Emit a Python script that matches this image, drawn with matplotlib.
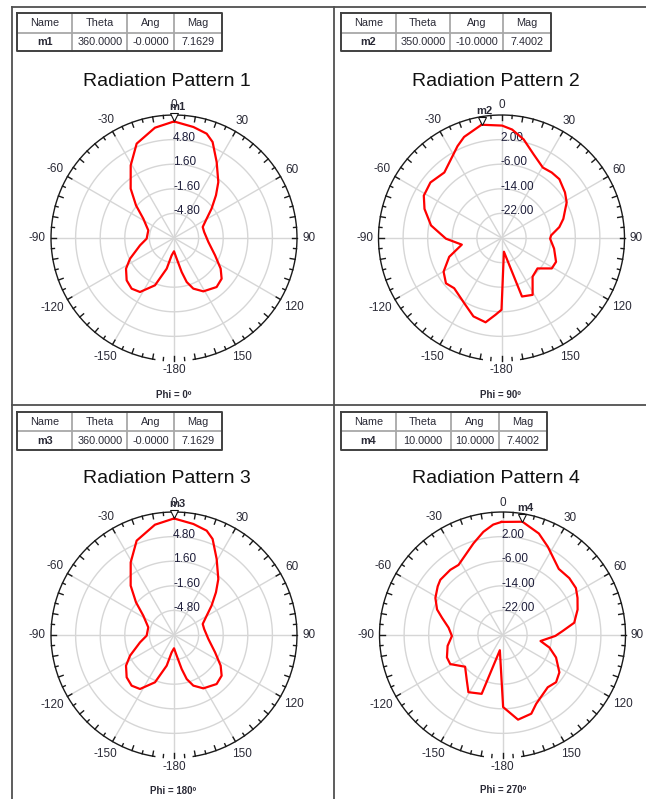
import numpy as np
import matplotlib.pyplot as plt
from matplotlib.transforms import offset_copy

plt.rcParams['font.family'] = ['Liberation Sans', 'DejaVu Sans']

W, H = 646, 799

# E-plane cut (phi = 0 / 180): angle in degrees, gain in dB
ang_a = [0, 9.9, 17.4, 21.9, 29.3, 38.4, 44.5, 52, 59.4, 69, 78.7, 96.6, 112.9,
         123.3, 130.5, 139, 151.2, 159.1, 163.9, 167.3, 172.6, 180,
         -172.3, -166.6, -158.1, -147.8, -140.1, -131.8, -122.6, -115.2,
         -102.2, -91.4, -73.4, -57.8, -49.3, -41.3, -30.8, -21.6, -9.8]
mag_a = [7.16, 6.66, 6.22, 5.46, 3.34, 1.28, -0.21, -1.8, -3.06, -4.0, -4.0, -3.5, -2.2,
         -0.74, 0.15, 0.45, -0.08, -0.95, -2.04, -3.47, -5.29, -6.27,
         -5.72, -3.9, -1.37, 0.3, 0.59, 0.26, -0.59, -1.68,
         -3.48, -4.44, -4.51, -3.28, -1.48, 0.54, 3.0, 5.2, 6.56]

# H-plane cut (phi = 90)
ang_b = [-10, 0.3, 5.6, 12.7, 21, 30.4, 37.5, 44.5, 54.3, 61.3, 72.8, 79.3, 87, 90.8,
         101.4, 113.6, 121.2, 130.2, 141.2, 151.3, 160.7, 170, 180, -175.6, -169.3,
         -160.3, -150.2, -136.7, -129.2, -120.2, -109.8, -99.5, -90.7, -79.9, -69.3,
         -61.4, -52, -41.1, -32.7, -25.6, -20.3]
mag_b = [7.4002, 6.56, 5.44, 2.84, -0.86, -3.44, -3.16, -3.16, -4.58, -5.84, -8.95, -10.86,
         -13.85, -14.19, -12.56, -10.64, -10.89, -14.67, -13.87, -8.92, -9.84, -25.48, -6.67,
         -4.98, -2.1, -2.92, -5.59, -7.56, -6.69, -8.21, -11.93, -16.91, -11.93, -6.73,
         -3.23, -1.22, -0.67, -1.72, 0.43, 3.12, 5.05]

# phi = 270 cut
ang_c = [-0.5, 10, 14.1, 19.7, 27.2, 40.4, 49.6, 57.4, 63.7, 71.3, 80.3, 86.2, 91, 99,
         105, 112.8, 123.3, 131.4, 139.1, 153.9, 159.9, 169.6, 179.5, -170.1, -160.5,
         -149.2, -142, -130.3, -119.1, -112, -101.2, -91.1, -82.3, -74.1, -68.7, -61.1,
         -53.1, -48.4, -38.7, -32.1, -17.6, -10.5, -4.8]
mag_c = [6.77, 7.4002, 6.24, 5.06, 2.26, -1.77, -1.47, -1.66, -2.79, -4.22, -6.34, -10.39,
         -12.8, -17.48, -14.19, -11.11, -7.87, -6.77, -7.52, -5.09, -2.75, -2.01, -6.56,
         -24.98, -9.7, -8.35, -11.16, -14.05, -10.55, -10.51, -11.8, -13.55, -12.31,
         -9.55, -7.16, -5.07, -3.65, -2.96, -2.85, -3.09, 1.25, 4.12, 6.04]

titles = ['Radiation Pattern 1', 'Radiation Pattern 2', 'Radiation Pattern 3', 'Radiation Pattern 4']
phi_labels = ['Phi = 0º', 'Phi = 90º', 'Phi = 180º', 'Phi = 270º']
patterns = [(ang_a, mag_a), (ang_b, mag_b), (ang_a, mag_a), (ang_c, mag_c)]
r_limits = [(-8.0, 8.0), (-30.0, 10.0), (-8.0, 8.0), (-30.0, 10.0)]
r_rings = [[-4.8, -1.6, 1.6, 4.8], [-22.0, -14.0, -6.0, 2.0],
           [-4.8, -1.6, 1.6, 4.8], [-22.0, -14.0, -6.0, 2.0]]

m_names = ['m1', 'm2', 'm3', 'm4']
m_theta = [360.0, 350.0, 360.0, 10.0]
m_ang = [-0.0, -10.0, -0.0, 10.0]
m_mag = [7.1629, 7.4002, 7.1629, 7.4002]

theta_ticks = [0, 30, 60, 90, 120, 150, 180, -150, -120, -90, -60, -30]
theta_text = ['0', '30', '60', '90', '120', '150', '-180', '-150', '-120', '-90', '-60', '-30']

# layout in pixels (x from left, y from top)
centers = [(174, 238), (501.5, 238), (174, 635), (502.5, 635)]
R = 123
title_pos = [(166.7, 81.7), (495.8, 81.7), (166.7, 478.5), (495.8, 478.5)]
phi_pos = [(173.3, 395), (500, 395), (173.3, 791), (503, 790)]
table_cols = [[17.3, 72.3, 127.3, 174, 221.7], [341, 396, 450, 503.3, 551],
              [17.3, 72.3, 127.3, 174, 221.7], [341, 395.7, 450.7, 499.3, 546.7]]
table_rows = [[13.3, 32.7, 51], [13.3, 32.7, 51], [412.3, 431, 450], [412.3, 431, 450]]

fig = plt.figure(figsize=(W / 100, H / 100), dpi=100)
bg = fig.add_axes([0, 0, 1, 1])
bg.set_xlim(0, W)
bg.set_ylim(H, 0)
bg.axis('off')

frame = dict(color='#505050', lw=1.3)
bg.plot([11.5, W], [7, 7], **frame)
bg.plot([11.5, 11.5], [7, H], **frame)
bg.plot([334, 334], [7, H], **frame)
bg.plot([11.5, W], [405, 405], **frame)

txt = '#2a2a36'

for k in range(4):
    # marker table
    xs, ys = table_cols[k], table_rows[k]
    for x in xs[1:-1]:
        bg.plot([x, x], [ys[0], ys[2]], color='#a8a8a8', lw=1.3)
    bg.plot([xs[0], xs[-1]], [ys[1], ys[1]], color='#a8a8a8', lw=1.3)
    bg.plot([xs[0], xs[-1], xs[-1], xs[0], xs[0]], [ys[0], ys[0], ys[2], ys[2], ys[0]],
            color='#404040', lw=1.4)
    heads = ['Name', 'Theta', 'Ang', 'Mag']
    vals = [m_names[k], f'{m_theta[k]:.4f}', f'{m_ang[k]:.4f}', f'{m_mag[k]:.4f}']
    for i in range(4):
        xm = (xs[i] + xs[i + 1]) / 2
        bg.text(xm, (ys[0] + ys[1]) / 2 + 0.5, heads[i], ha='center', va='center',
                fontsize=7.8, color=txt)
        bg.text(xm, (ys[1] + ys[2]) / 2 + 0.5, vals[i], ha='center', va='center',
                fontsize=7.8, color=txt, fontweight='bold' if i == 0 else 'normal')

    bg.text(*title_pos[k], titles[k], ha='center', va='center', fontsize=14, color='#111111')
    bg.text(*phi_pos[k], phi_labels[k], ha='center', va='center', fontsize=7,
            fontweight='bold', color=txt)

    # polar plot
    cx, cy = centers[k]
    ax = fig.add_axes([(cx - R) / W, (H - cy - R) / H, 2 * R / W, 2 * R / H],
                      projection='polar')
    ax.set_theta_zero_location('N')
    ax.set_theta_direction(-1)
    rmin, rmax = r_limits[k]
    ax.set_rlim(rmin, rmax)
    ax.set_xticks([])
    ax.set_yticks([])
    ax.grid(False)
    ax.spines['polar'].set_visible(False)
    ax.patch.set_alpha(0)
    span = rmax - rmin
    px = span / R

    full = np.linspace(0, 2 * np.pi, 361)
    for ring in r_rings[k]:
        ax.plot(full, np.full_like(full, ring), color='#d6d6d6', lw=1.0, zorder=1)
    for a in range(0, 360, 30):
        ax.plot([np.radians(a)] * 2, [rmin, rmax], color='#d6d6d6', lw=1.0, zorder=1)

    arc = np.radians(np.linspace(-171, 171, 400))
    ax.plot(arc, np.full_like(arc, rmax), color='#1a1a1a', lw=1.0, clip_on=False, zorder=3)
    for a in range(-180, 180, 5):
        ln = 5 if a % 10 == 0 else 3
        ax.plot([np.radians(a)] * 2, [rmax, rmax - ln * px], color='#1a1a1a', lw=1.0,
                clip_on=False, zorder=3)

    # angle labels placed just outside the rim
    for a, s in zip(theta_ticks, theta_text):
        w = 6.6 * sum(c.isdigit() for c in s) + 3.9 * s.count('-')
        h = 9.0
        t = np.radians(a)
        rp = R + 5 + 0.5 * (w * abs(np.sin(t)) + h * abs(np.cos(t)))
        ax.text(t, rmin + rp * px, s, ha='center', va='center', fontsize=8.5,
                color=txt, clip_on=False)

    lab_tr = offset_copy(ax.transData, fig=fig, x=-1, y=2, units='dots')
    for ring in r_rings[k]:
        ax.text(0, ring, f'{ring:.2f}', ha='left', va='center', fontsize=8.5,
                color='#1e1e3a', transform=lab_tr, zorder=4)

    ang, mag = patterns[k]
    th = np.radians(list(ang) + [ang[0]])
    ax.plot(th, list(mag) + [mag[0]], color='#ff0000', lw=1.6, zorder=5)

    # marker
    mt = np.radians(m_ang[k])
    ax.plot(mt, m_mag[k], marker='v', ms=6, mfc='white', mec='#111111', mew=0.8,
            transform=offset_copy(ax.transData, fig=fig, x=0, y=4, units='dots'),
            clip_on=False, zorder=6)
    ax.text(mt, m_mag[k], m_names[k], ha='center', va='center', fontsize=8,
            fontweight='bold', color=txt, clip_on=False, zorder=6,
            transform=offset_copy(ax.transData, fig=fig, x=3, y=14, units='dots'))

fig.savefig('out.png', dpi=100, facecolor='white')
